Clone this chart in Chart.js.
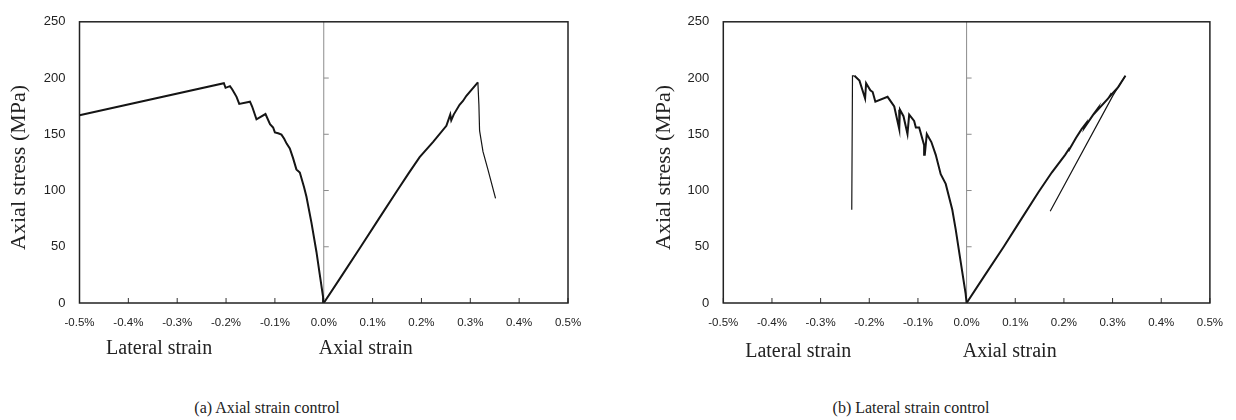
<!DOCTYPE html>
<html>
<head>
<meta charset="utf-8">
<script src="https://cdn.jsdelivr.net/npm/chart.js@4.4.1/dist/chart.umd.min.js"></script>
<style>
  body { margin: 0; background: #fff; }
  #wrap { position: relative; width: 1236px; height: 420px; }
  canvas { position: absolute; top: 0; }
  .cap { position: absolute; top: 399px; width: 300px; text-align: center;
         font: 16px/18px "Liberation Serif", "Times New Roman", serif; color: #222; }
</style>
</head>
<body>
<div id="wrap">
  <canvas id="chartA" width="618" height="370" style="left:0"></canvas>
  <canvas id="chartB" width="618" height="370" style="left:618px"></canvas>
  <div class="cap" style="left:117px">(a) Axial strain control</div>
  <div class="cap" style="left:761px">(b) Lateral strain control</div>
</div>
<script>
// strain in %, stress in MPa

// (a) axial strain control
const latA_x = [0, -0.0014, -0.0082, -0.015, -0.0252, -0.0354, -0.0403, -0.049, -0.056, -0.0628, -0.0695, -0.076, -0.081, -0.0866, -0.0934, -0.1, -0.1036, -0.11, -0.1193, -0.1377, -0.1466, -0.151, -0.173, -0.1785, -0.1875, -0.192, -0.201, -0.2045, -0.5];
const latA_y = [0, 5.4, 25.5, 45.6, 71.4, 94.4, 103, 116, 118.8, 128.8, 137.4, 141.7, 146, 149.7, 150.9, 151.7, 156, 159, 168, 163.3, 174.7, 179, 177, 183.3, 190, 192.8, 191.3, 195.4, 167];
const axA_x = [0, 0.038, 0.0757, 0.113, 0.1505, 0.174, 0.1963, 0.2235, 0.251, 0.259, 0.261, 0.266, 0.278, 0.285, 0.292, 0.3155];
const axA_y = [0, 25, 50, 75, 100, 115.5, 129.7, 143.1, 157.5, 167.5, 162.4, 167.5, 176.2, 179.6, 184.2, 196.2];
const postA_x = [0.3155, 0.3176, 0.319, 0.326, 0.336, 0.3517];
const postA_y = [196.2, 176.2, 153.2, 134.5, 118.8, 93];

// (b) lateral strain control
const latB_x = [0, -0.002, -0.0123, -0.0225, -0.0294, -0.0429, -0.0532, -0.0634, -0.0724, -0.0818, -0.0859, -0.0873, -0.0975, -0.1043, -0.1078, -0.118, -0.1215, -0.1297, -0.137, -0.1384, -0.1487, -0.1624, -0.1875, -0.193, -0.1978, -0.2065, -0.2086, -0.2202, -0.2305];
const latB_y = [0, 8.3, 37, 65.7, 82.9, 105.9, 114.5, 131.7, 143.1, 150.3, 131.7, 140.3, 156, 156, 161.8, 167.5, 150.3, 166.1, 171.9, 154.6, 174.7, 183.3, 179, 187.6, 189.1, 195.4, 181.8, 197.7, 202];
const dropB_x = [-0.2305, -0.2345, -0.236];
const dropB_y = [202, 202, 82.9];
const axB_x = [0, 0.038, 0.0763, 0.113, 0.1479, 0.175, 0.2025, 0.212, 0.209, 0.225, 0.2364, 0.245, 0.243, 0.2603, 0.268, 0.266, 0.291, 0.298, 0.296, 0.3115, 0.3264];
const axB_y = [0, 25, 50, 75, 98.7, 116, 131.7, 138, 135, 147, 154.6, 159.5, 156.5, 167.5, 172, 170, 181.8, 186.5, 184.5, 191.9, 202];
const unloadB_x = [0.3264, 0.3012, 0.1718];
const unloadB_y = [202, 184.8, 81.5];

const xTicks = [-0.5, -0.4, -0.3, -0.2, -0.1, 0, 0.1, 0.2, 0.3, 0.4, 0.5];
const yTicks = [0, 50, 100, 150, 200, 250];

function pts(xs, ys) {
  return xs.map((x, i) => ({ x: x, y: ys[i] }));
}

const framePlugin = {
  id: 'frame',
  beforeDatasetsDraw(chart) {
    const { ctx, chartArea: a, scales: { x, y } } = chart;
    const x0 = x.getPixelForValue(0);
    ctx.save();
    // zero line with its small ticks
    ctx.strokeStyle = '#8c8c8c';
    ctx.lineWidth = 1;
    ctx.beginPath();
    ctx.moveTo(x0, a.top);
    ctx.lineTo(x0, a.bottom);
    yTicks.forEach(v => {
      if (v > 0 && v < 250) {
        const py = y.getPixelForValue(v);
        ctx.moveTo(x0, py);
        ctx.lineTo(x0 + 5, py);
      }
    });
    ctx.stroke();
    // inner ticks on the bottom axis
    ctx.strokeStyle = '#333';
    ctx.beginPath();
    xTicks.forEach(v => {
      const px = x.getPixelForValue(v);
      ctx.moveTo(px, a.bottom);
      ctx.lineTo(px, a.bottom - 5);
    });
    ctx.stroke();
    ctx.restore();
  },
  afterDraw(chart, args, opts) {
    const { ctx, chartArea: a, scales: { x } } = chart;
    ctx.save();
    ctx.strokeStyle = '#222';
    ctx.lineWidth = 1.5;
    ctx.strokeRect(a.left, a.top, a.right - a.left, a.bottom - a.top);

    ctx.fillStyle = '#222';
    ctx.font = '20px "Liberation Serif", serif';
    ctx.textAlign = 'center';
    ctx.textBaseline = 'alphabetic';
    opts.labels.forEach(l => {
      ctx.fillText(l.text, x.getPixelForValue(l.at), a.bottom + opts.labelDy);
    });

    ctx.font = '22px "Liberation Serif", serif';
    ctx.textBaseline = 'middle';
    ctx.translate(opts.titleX, (a.top + a.bottom) / 2 + 5);
    ctx.rotate(-Math.PI / 2);
    ctx.fillText('Axial stress (MPa)', 0, 0);
    ctx.restore();
  }
};

function makeChart(id, datasets, pad, labelDy, labelAt, titleX) {
  return new Chart(document.getElementById(id), {
    type: 'scatter',
    data: { datasets: datasets },
    plugins: [framePlugin],
    options: {
      responsive: false,
      animation: false,
      devicePixelRatio: 1,
      layout: { padding: pad },
      elements: { point: { radius: 0 }, line: { tension: 0 } },
      plugins: {
        legend: { display: false },
        tooltip: { enabled: false },
        frame: {
          labelDy: labelDy,
          titleX: titleX,
          labels: [
            { text: 'Lateral strain', at: labelAt[0] },
            { text: 'Axial strain', at: labelAt[1] }
          ]
        }
      },
      scales: {
        x: {
          type: 'linear',
          min: -0.5,
          max: 0.5,
          grid: { display: false, drawTicks: false },
          border: { display: false },
          afterBuildTicks: s => { s.ticks = xTicks.map(v => ({ value: v })); },
          afterFit: s => { s.height = 67; },
          ticks: {
            padding: 13,
            color: '#222',
            font: { family: 'Liberation Sans', size: 11.5 },
            callback: v => v.toFixed(1) + '%'
          }
        },
        y: {
          min: 0,
          max: 250,
          grid: { display: false, drawTicks: false },
          border: { display: false },
          afterBuildTicks: s => { s.ticks = yTicks.map(v => ({ value: v })); },
          afterFit: s => { s.width = 79.5; },
          ticks: {
            padding: 14,
            color: '#222',
            font: { family: 'Liberation Sans', size: 13 }
          }
        }
      }
    }
  });
}

function line(data, w) {
  return { data: data, showLine: true, borderColor: '#151515', borderWidth: w, fill: false, clip: true };
}

makeChart('chartA', [
  line(pts(latA_x, latA_y), 2),
  line(pts(axA_x, axA_y), 2),
  line(pts(postA_x, postA_y), 1.2)
], { left: 0, right: 50, top: 12.7, bottom: 0 }, 51, [-0.337, 0.086], 19.5);

makeChart('chartB', [
  line(pts(latB_x, latB_y), 2),
  line(pts(dropB_x, dropB_y), 1.2),
  line(pts(axB_x, axB_y), 2),
  line(pts(unloadB_x, unloadB_y), 1.2)
], { left: 25.8, right: 23.3, top: 12, bottom: 0 }, 54, [-0.346, 0.0886], 46);
</script>
</body>
</html>
